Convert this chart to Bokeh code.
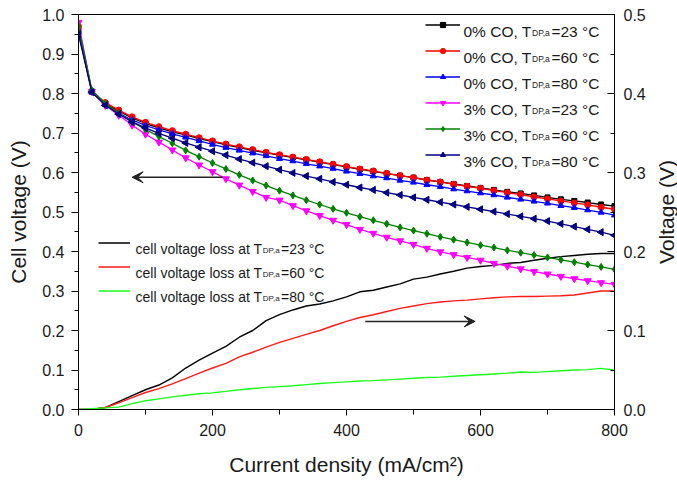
import numpy as np
from bokeh.plotting import figure
from bokeh.models import (Range1d, LinearAxis, SingleIntervalTicker, PrintfTickFormatter,
                          Legend, LegendItem, Label, Arrow, VeeHead)
from bokeh.embed import file_html
from bokeh.resources import INLINE

# ---------------- data ----------------
current = [0, 20, 40, 60, 80, 100, 120, 140, 160, 180, 200, 220, 240, 260, 280, 300,
           320, 340, 360, 380, 400, 420, 440, 460, 480, 500, 520, 540, 560, 580, 600,
           620, 640, 660, 680, 700, 720, 740, 760, 780, 800]

v_0co_23 = [0.960, 0.805, 0.775, 0.755, 0.738, 0.724, 0.713, 0.703, 0.695, 0.686, 0.678,
            0.670, 0.663, 0.656, 0.650, 0.644, 0.638, 0.632, 0.626, 0.620, 0.614, 0.608,
            0.603, 0.597, 0.592, 0.587, 0.581, 0.576, 0.571, 0.566, 0.561, 0.556, 0.551,
            0.547, 0.542, 0.537, 0.532, 0.528, 0.524, 0.519, 0.515]
v_0co_60 = [0.970, 0.805, 0.777, 0.758, 0.741, 0.727, 0.716, 0.706, 0.697, 0.688, 0.680,
            0.672, 0.665, 0.658, 0.651, 0.645, 0.639, 0.633, 0.627, 0.621, 0.615, 0.609,
            0.604, 0.598, 0.592, 0.587, 0.581, 0.576, 0.570, 0.565, 0.560, 0.554, 0.549,
            0.544, 0.538, 0.533, 0.528, 0.523, 0.518, 0.512, 0.507]
v_0co_80 = [0.955, 0.803, 0.772, 0.750, 0.733, 0.719, 0.708, 0.698, 0.689, 0.680, 0.671,
            0.663, 0.656, 0.649, 0.642, 0.635, 0.629, 0.622, 0.616, 0.610, 0.603, 0.597,
            0.591, 0.586, 0.580, 0.575, 0.569, 0.564, 0.558, 0.553, 0.548, 0.543, 0.537,
            0.532, 0.527, 0.522, 0.516, 0.511, 0.505, 0.499, 0.492]
v_3co_23 = [0.980, 0.805, 0.770, 0.745, 0.720, 0.697, 0.677, 0.657, 0.637, 0.619, 0.602,
            0.584, 0.568, 0.552, 0.537, 0.530, 0.516, 0.503, 0.491, 0.479, 0.468, 0.456,
            0.446, 0.436, 0.427, 0.418, 0.408, 0.399, 0.392, 0.385, 0.378, 0.370, 0.363,
            0.356, 0.349, 0.343, 0.337, 0.331, 0.326, 0.321, 0.317]
v_3co_60 = [0.970, 0.808, 0.775, 0.750, 0.728, 0.709, 0.691, 0.674, 0.656, 0.640, 0.624,
            0.609, 0.594, 0.580, 0.567, 0.554, 0.542, 0.530, 0.519, 0.508, 0.498, 0.488,
            0.479, 0.470, 0.461, 0.453, 0.445, 0.437, 0.430, 0.423, 0.416, 0.410, 0.403,
            0.397, 0.391, 0.385, 0.379, 0.373, 0.367, 0.361, 0.355]
v_3co_80 = [0.950, 0.803, 0.770, 0.748, 0.728, 0.713, 0.699, 0.687, 0.675, 0.664, 0.654,
            0.644, 0.634, 0.625, 0.616, 0.607, 0.599, 0.591, 0.584, 0.576, 0.569, 0.562,
            0.556, 0.549, 0.543, 0.537, 0.531, 0.525, 0.519, 0.513, 0.507, 0.501, 0.495,
            0.489, 0.483, 0.477, 0.470, 0.463, 0.456, 0.449, 0.441]

# cell voltage loss (right axis, V)
loss_23 = [0.0, 0.0, 0.0025, 0.010, 0.0175, 0.025, 0.031, 0.040, 0.0525, 0.0625, 0.0715,
           0.080, 0.0915, 0.100, 0.1125, 0.120, 0.126, 0.131, 0.1335, 0.1375, 0.1425, 0.149,
           0.151, 0.155, 0.159, 0.165, 0.1675, 0.1715, 0.175, 0.179, 0.181, 0.1825, 0.185,
           0.186, 0.189, 0.1915, 0.1935, 0.195, 0.1965, 0.1975, 0.1975]
loss_60 = [0.0, 0.0, 0.0025, 0.0085, 0.015, 0.0215, 0.0265, 0.0325, 0.039, 0.046, 0.0525,
           0.0585, 0.0665, 0.0725, 0.079, 0.085, 0.090, 0.095, 0.100, 0.106, 0.1115, 0.1165,
           0.120, 0.124, 0.128, 0.131, 0.134, 0.136, 0.1375, 0.1385, 0.140, 0.1415, 0.1425,
           0.143, 0.143, 0.1435, 0.144, 0.145, 0.1475, 0.150, 0.150]
loss_80 = [0.0, 0.001, 0.002, 0.003, 0.0075, 0.011, 0.0135, 0.016, 0.018, 0.020, 0.021,
           0.023, 0.025, 0.0265, 0.028, 0.029, 0.030, 0.0315, 0.033, 0.034, 0.035, 0.036,
           0.0365, 0.0375, 0.0385, 0.0395, 0.0405, 0.041, 0.042, 0.043, 0.044, 0.045, 0.046,
           0.0475, 0.047, 0.048, 0.049, 0.050, 0.0505, 0.052, 0.050]

pol_labels = ["0% CO", "0% CO", "0% CO", "3% CO", "3% CO", "3% CO"]
temps = ["23", "60", "80", "23", "60", "80"]
loss_temps = ["23", "60", "80"]

# ---------------- figure ----------------
FONT = "Liberation Sans"
TXT = "#1a1a1a"
FRAME_W, FRAME_H = 536, 395

p = figure(width=677, height=485, output_backend="svg", toolbar_location=None,
           x_range=Range1d(0, 800), y_range=Range1d(0, 1.0),
           min_border_left=78, min_border_right=63, min_border_top=14, min_border_bottom=76)
p.extra_y_ranges = {"right": Range1d(0, 0.5)}
p.xgrid.visible = False
p.ygrid.visible = False
p.outline_line_color = "black"
p.outline_line_alpha = 1
p.outline_line_width = 1
p.background_fill_color = "white"
p.border_fill_color = "white"


def style_axis(ax, tick_in, tick_out, minor_in, minor_out):
    ax.axis_line_color = "black"
    ax.axis_line_width = 1
    ax.major_tick_line_color = "black"
    ax.minor_tick_line_color = "black"
    ax.major_tick_in = tick_in
    ax.major_tick_out = tick_out
    ax.minor_tick_in = minor_in
    ax.minor_tick_out = minor_out
    ax.major_label_text_font = FONT
    ax.major_label_text_font_size = "16px"
    ax.major_label_text_color = TXT
    ax.axis_label_text_font = FONT
    ax.axis_label_text_font_size = "21px"
    ax.axis_label_text_font_style = "normal"
    ax.axis_label_text_color = TXT


xa = p.xaxis[0]
xa.ticker = SingleIntervalTicker(interval=200, num_minor_ticks=2)
xa.axis_label = "Current density (mA/cm²)"
style_axis(xa, 0, 6, 0, 5)
xa.major_label_standoff = 8
xa.axis_label_standoff = 14

ya = p.yaxis[0]
ya.ticker = SingleIntervalTicker(interval=0.1, num_minor_ticks=2)
ya.formatter = PrintfTickFormatter(format="%.1f")
ya.axis_label = "Cell voltage (V)"
style_axis(ya, 0, 7, 0, 4)
ya.major_label_standoff = 7
ya.axis_label_standoff = 9

ra = LinearAxis(y_range_name="right",
                ticker=SingleIntervalTicker(interval=0.1, num_minor_ticks=2),
                formatter=PrintfTickFormatter(format="%.1f"))
style_axis(ra, 7, 0, 4, 0)
ra.major_label_standoff = 9
p.add_layout(ra, "right")

# right axis title (reads bottom-to-top, like the left one), placed in the right panel
p.add_layout(Label(x=800, y=0.5, x_offset=52, y_offset=0, text="Voltage (V)",
                   angle=np.pi / 2, angle_units="rad", text_font=FONT,
                   text_font_size="21px", text_color=TXT, text_align="center",
                   text_baseline="middle"), "right")

# ---------------- loss curves ----------------
loss_series = [loss_23, loss_60, loss_80]
loss_colors = ["#000000", "#ff1a1a", "#1aff1a"]
loss_renderers = []
for ys, c in zip(loss_series, loss_colors):
    r = p.line(current, ys, line_color=c, line_width=1.4, y_range_name="right")
    loss_renderers.append(r)

# ---------------- polarization curves ----------------
pol_series = [v_0co_23, v_0co_60, v_0co_80, v_3co_23, v_3co_60, v_3co_80]
pol_colors = ["#000000", "#ff0000", "#0000ff", "#ff00ff", "#008000", "#000080"]
pol_markers = ["square", "circle", "triangle", "inverted_triangle", "diamond", "triangle"]
pol_sizes = [5, 6, 6, 7, 7, 7]
pol_angles = [0, 0, 0, 0, 0, np.pi / 2]
pol_renderers = []
for ys, c, m, s, a in zip(pol_series, pol_colors, pol_markers, pol_sizes, pol_angles):
    ln = p.line(current, ys, line_color=c, line_width=1.3)
    sc = p.scatter(current, ys, marker=m, size=s, angle=a, fill_color=c, line_color=c)
    pol_renderers.append([ln, sc])

# ---------------- arrows ----------------
p.add_layout(Arrow(x_start=215, y_start=0.588, x_end=80, y_end=0.588, line_width=1.5,
                   line_color="#222222",
                   end=VeeHead(size=11, fill_color="#222222", line_color="#222222")))
p.add_layout(Arrow(x_start=428, y_start=0.223, x_end=592, y_end=0.223, line_width=1.5,
                   line_color="#222222",
                   end=VeeHead(size=11, fill_color="#222222", line_color="#222222")))

# ---------------- legends ----------------
CW = {'0': .556, '1': .556, '2': .556, '3': .556, '4': .556, '5': .556, '6': .556,
      '7': .556, '8': .556, '9': .556, '%': .889, ' ': .278, 'C': .722, 'O': .778,
      ',': .278, 'T': .611, 'D': .722, 'P': .667, 'a': .556, '=': .584, '°': .4,
      'c': .5, 'e': .556, 'l': .222, 'v': .5, 'o': .556, 't': .278, 'g': .556, 's': .5}


def tw(s, size):
    return sum(CW.get(ch, .556) for ch in s) * size


def put(x_px, y_px, text, size):
    """x_px, y_px: pixels from the frame's top-left corner (y downward, baseline)."""
    p.add_layout(Label(x=0, y=1.0, x_offset=x_px, y_offset=-y_px, text=text,
                       text_font=FONT, text_font_size=f"{size}px", text_color=TXT,
                       text_baseline="alphabetic", text_align="left"))


def rich_label(x_px, center_px, main, rest, size, sub_size):
    base = center_px + 0.716 * size / 2
    put(x_px, base, main, size)
    xs = x_px + tw(main, size) + 0.5
    put(xs, base + 2, "DP,a", sub_size)
    xr = xs + tw("DP,a", sub_size) + 0.5
    put(xr, base, rest, size)


GLYPH_H = 13

# top-right legend (glyph samples)
TOP_SP = 13
top_first = 11  # centre of first row, px below frame top
top_items = [LegendItem(label=" ", renderers=r) for r in pol_renderers]
top_h = 6 * GLYPH_H + 5 * TOP_SP
leg_top = Legend(items=top_items,
                 location=(347, round(FRAME_H - (top_first - GLYPH_H / 2) - top_h)),
                 orientation="vertical", glyph_width=35, glyph_height=GLYPH_H,
                 label_height=GLYPH_H, label_width=1, spacing=TOP_SP, padding=0,
                 margin=0, label_standoff=0, label_text_font_size="1px",
                 border_line_alpha=0, background_fill_alpha=0)
p.add_layout(leg_top)
for i, (lab, t) in enumerate(zip(pol_labels, temps)):
    rich_label(385, top_first + i * (GLYPH_H + TOP_SP), f"{lab}, T", f"={t} °C", 15.5, 8.5)

# bottom-left legend (loss curves)
BL_SP = 11
bl_first = 229
bl_items = [LegendItem(label=" ", renderers=[r]) for r in loss_renderers]
bl_h = 3 * GLYPH_H + 2 * BL_SP
leg_bl = Legend(items=bl_items,
                location=(20, round(FRAME_H - (bl_first - GLYPH_H / 2) - bl_h)),
                orientation="vertical", glyph_width=32, glyph_height=GLYPH_H,
                label_height=GLYPH_H, label_width=1, spacing=BL_SP, padding=0,
                margin=0, label_standoff=0, label_text_font_size="1px",
                border_line_alpha=0, background_fill_alpha=0)
p.add_layout(leg_bl)
for i, t in enumerate(loss_temps):
    rich_label(57, bl_first + i * (GLYPH_H + BL_SP), "cell voltage loss at T", f"={t} °C", 14, 8)

open("out.html", "w").write(file_html(p, INLINE))
